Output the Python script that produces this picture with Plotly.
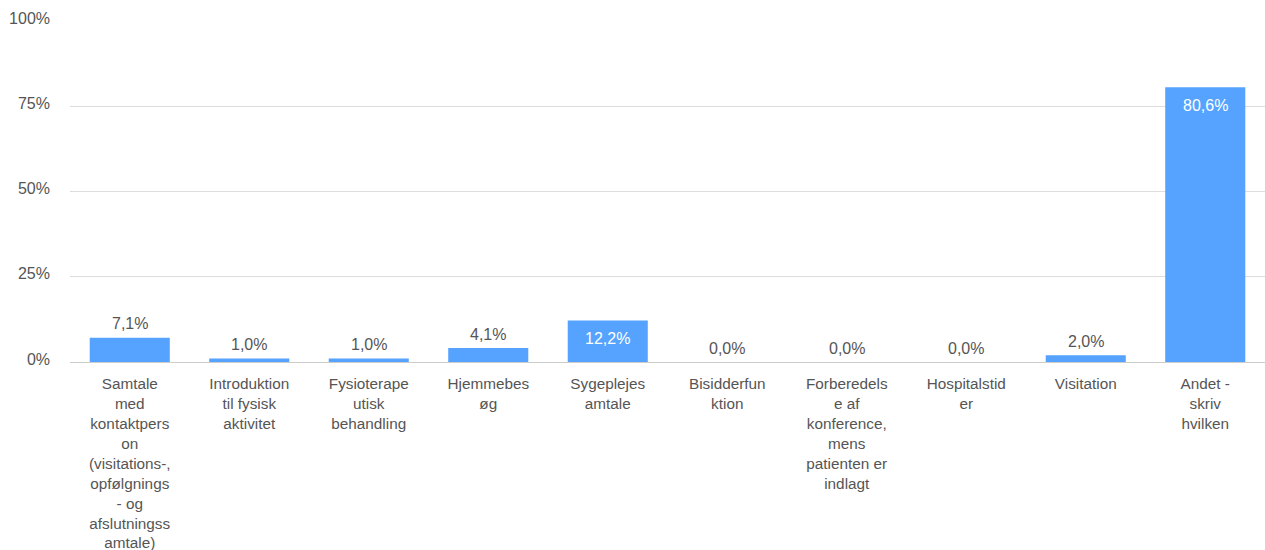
import plotly.graph_objects as go

categories = [
    "Samtale<br>med<br>kontaktpers<br>on<br>(visitations-,<br>opfølgnings<br>- og<br>afslutningss<br>amtale)",
    "Introduktion<br>til fysisk<br>aktivitet",
    "Fysioterape<br>utisk<br>behandling",
    "Hjemmebes<br>øg",
    "Sygeplejes<br>amtale",
    "Bisidderfun<br>ktion",
    "Forberedels<br>e af<br>konference,<br>mens<br>patienten er<br>indlagt",
    "Hospitalstid<br>er",
    "Visitation",
    "Andet -<br>skriv<br>hvilken",
]
values = [7.1, 1.0, 1.0, 4.1, 12.2, 0.0, 0.0, 0.0, 2.0, 80.6]
y_ticks = [0, 25, 50, 75, 100]
y_tick_labels = ["0%", "25%", "50%", "75%", "100%"]

FONT = "Liberation Sans, Arial"
labels = [f"{v:.1f}%".replace(".", ",") for v in values]
xs = list(range(len(values)))

fig = go.Figure(go.Bar(
    x=xs, y=values,
    marker=dict(color="#55a3ff", line=dict(width=0)),
    width=0.67, hoverinfo="skip",
))

annotations = []
for x, v, lab in zip(xs, values, labels):
    inside = v >= 10
    annotations.append(dict(
        x=x, y=v, xref="x", yref="y", text=lab, showarrow=False,
        yanchor="middle", yshift=-18 if inside else 14,
        font=dict(family=FONT, size=16, color="#ffffff" if inside else "#555555"),
    ))

fig.update_layout(
    width=1265, height=550,
    margin=dict(l=70, r=0, t=21, b=188),
    plot_bgcolor="white", paper_bgcolor="white",
    showlegend=False,
    annotations=annotations,
    font=dict(family=FONT, size=15, color="#555555"),
    xaxis=dict(tickmode="array", tickvals=xs, ticktext=categories,
               range=[-0.5, len(values) - 0.5], showgrid=False, zeroline=False,
               showline=False, ticks="", ticklabelstandoff=11,
               tickfont=dict(size=15.3, color="#555555")),
    yaxis=dict(range=[0, 100], tickmode="array", tickvals=y_ticks, ticktext=y_tick_labels,
               showgrid=True, gridcolor="#dddddd", gridwidth=1, zeroline=True,
               zerolinecolor="#cccccc", zerolinewidth=1,
               ticks="", ticklabelstandoff=19, ticklabelshift=-3,
               tickfont=dict(size=16, color="#555555")),
)
fig.write_html("out.html")
